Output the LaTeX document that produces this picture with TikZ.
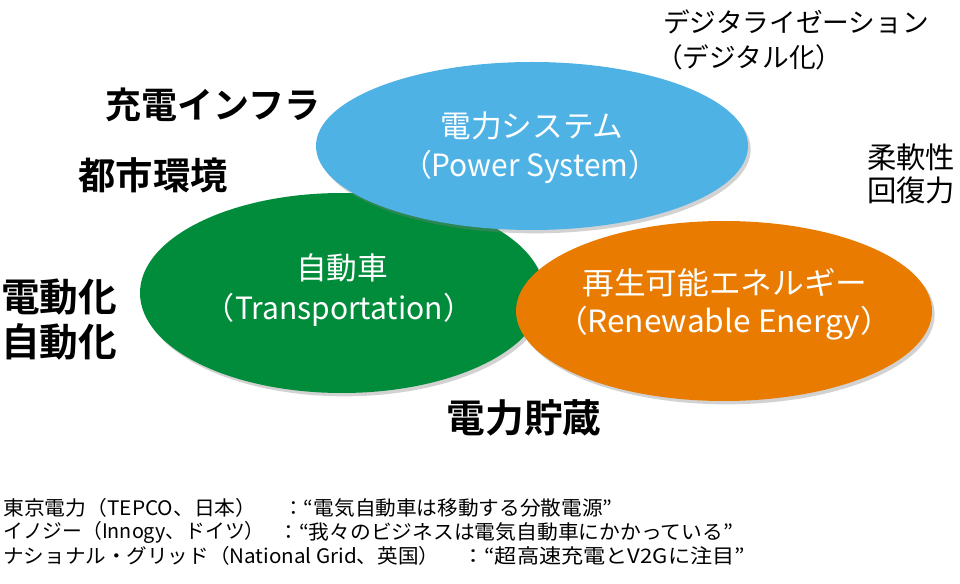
\documentclass[tikz,border=0pt]{standalone}
\usepackage{fontspec}
\usepackage{graphicx}
\setmainfont{Noto Sans CJK JP}
\newfontfamily\jpb{Noto Sans CJK JP Bold}
\usetikzlibrary{shapes.geometric,shadows}
\definecolor{cblue}{HTML}{4FB2E5}
\definecolor{cgreen}{HTML}{008C3A}
\definecolor{corange}{HTML}{E97C00}
\newcommand{\fitw}[2]{\resizebox{#1}{\height}{#2}}
\tikzset{
  blob/.style={ellipse, inner sep=0pt, draw=none, drop shadow={opacity=0.35, shadow xshift=2pt, shadow yshift=-2.5pt}},
  intext/.style={text=white, font=\fontsize{23}{28}\selectfont, inner sep=0pt},
  biglabel/.style={text=black, font=\jpb\fontsize{29}{34}\selectfont, inner sep=0pt},
  midlabel/.style={text=black, font=\fontsize{20}{24}\selectfont, inner sep=0pt},
  note/.style={text=black, font=\fontsize{15}{18}\selectfont, inner sep=0pt, anchor=west}
}
\begin{document}
\begin{tikzpicture}[x=0.75pt,y=-0.75pt]
\useasboundingbox (0,0) rectangle (960,584);
\fill[white] (0,0) rectangle (960,584);
% ellipses
\node (green) [blob, fill=cgreen, minimum width=303pt, minimum height=150pt] at (342,293) {};
\node (orange) [blob, fill=corange, minimum width=312pt, minimum height=135pt] at (724,311) {};
\node (blue) [blob, fill=cblue, minimum width=324pt, minimum height=126pt] at (532,146) {};
% ellipse texts
\node (b1) [intext] at (532,126) {電力システム};
\node (b2) [intext] at (530,167) {\fitw{192pt}{（Power System）}};
\node (g1) [intext] at (342,268) {自動車};
\node (g2) [intext] at (339,310) {\fitw{201pt}{（Transportation）}};
\node (o1) [intext] at (725,283) {\fitw{214pt}{再生可能エネルギー}};
\node (o2) [intext] at (724,323) {\fitw{252pt}{（Renewable Energy）}};
% outer labels
\node (l1) [biglabel, font=\jpb\fontsize{27}{32}\selectfont] at (213,105) {充電インフラ};
\node (l2) [biglabel, font=\jpb\fontsize{28}{32}\selectfont] at (153,175) {都市環境};
\node (l3) [biglabel, anchor=west] at (1,297) {電動化};
\node (l4) [biglabel, anchor=west] at (1,342) {自動化};
\node (l5) [biglabel] at (524,418) {電力貯蔵};
\node (m1) [midlabel, anchor=west] at (663,22) {デジタライゼーション};
\node (m2) [midlabel, anchor=west] at (656,57) {（デジタル化）};
\node (m3) [midlabel, font=\fontsize{22}{26}\selectfont, anchor=west] at (867,157) {柔軟性};
\node (m4) [midlabel, font=\fontsize{22}{26}\selectfont, anchor=west] at (867,190) {回復力};
% notes
\node (n1a) [note] at (3,508) {\fitw{190pt}{東京電力（TEPCO、日本）}};
\node (n1b) [note] at (283,508) {\fitw{247pt}{：“電気自動車は移動する分散電源”}};
\node (n2a) [note] at (3,532) {\fitw{196pt}{イノジー（Innogy、ドイツ）}};
\node (n2b) [note] at (278,532) {\fitw{341pt}{：“我々のビジネスは電気自動車にかかっている”}};
\node (n3a) [note] at (3,556) {\fitw{327pt}{ナショナル・グリッド（National Grid、英国）}};
\node (n3b) [note] at (462,556) {\fitw{212pt}{：“超高速充電とV2Gに注目”}};
\end{tikzpicture}
\end{document}
